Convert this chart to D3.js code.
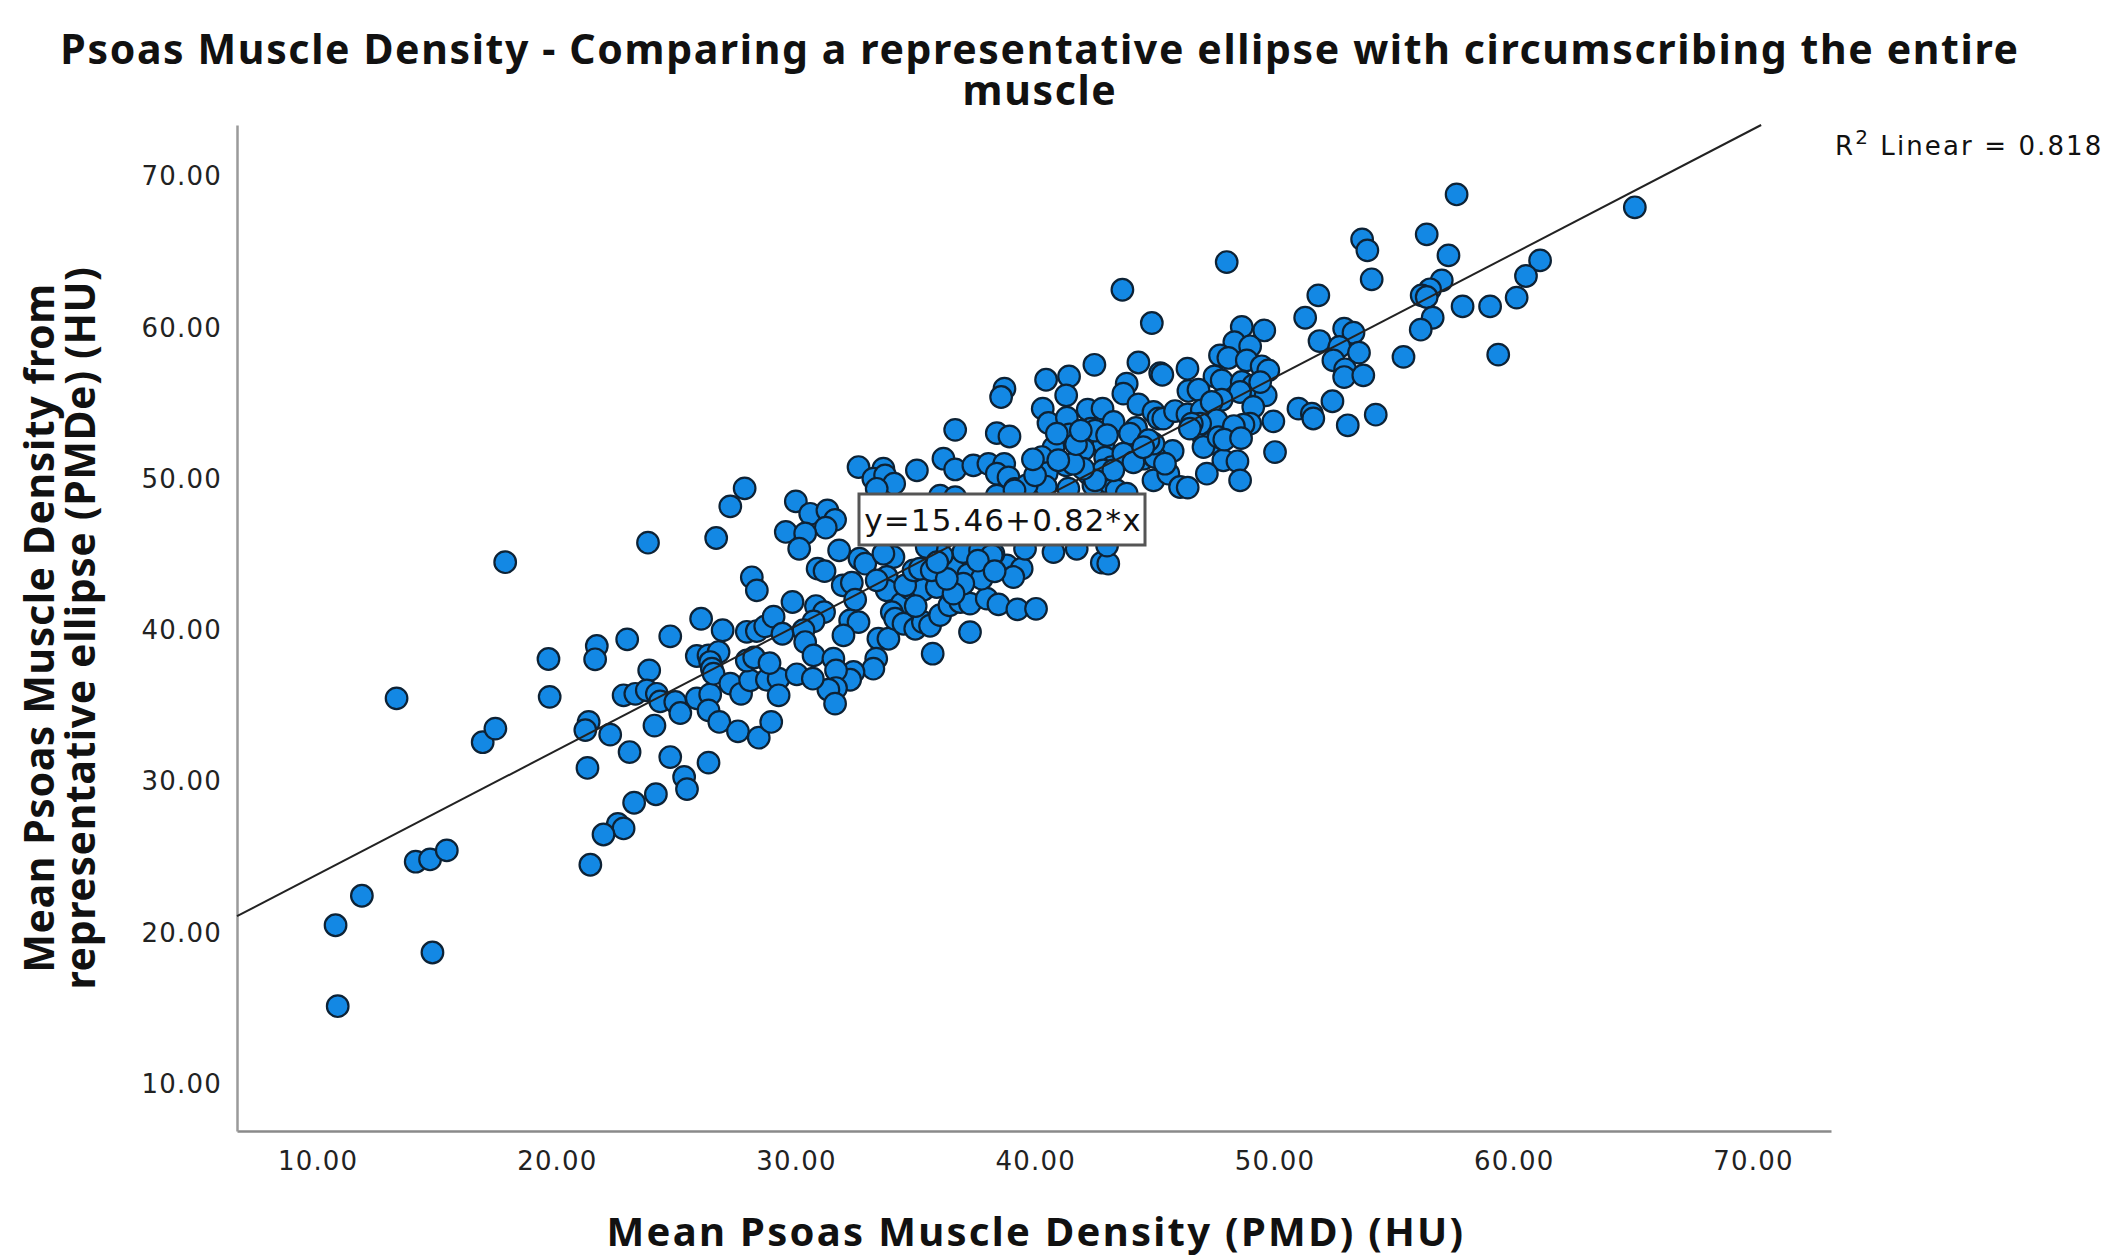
<!DOCTYPE html>
<html>
<head>
<meta charset="utf-8">
<script src="https://cdn.jsdelivr.net/npm/d3@7"></script>
<style>
	html, body { margin: 0; padding: 0; background: #fff; }
	svg { display: block; }
	text { fill: #111; }
	.tick text { fill: #222; font-family: "DejaVu Sans", sans-serif; font-size: 26px; letter-spacing: 1.2px; }
</style>
</head>
<body>
<div id="chart"></div>
<script>
// same order in both arrays
const pmdValues = [
	10.84, 10.75, 11.85, 14.8, 14.1, 14.7, 15.4, 13.3, 16.9, 17.43,
	17.84, 19.65, 19.7, 21.67, 21.6, 22.94, 24.74, 26.03, 26.93, 28.15,
	28.36, 23.86, 22.79, 23.28, 23.76, 24.18, 24.32, 24.95, 25.16, 25.85,
	26.41, 26.34, 26.79, 27.57, 28.44, 28.96, 24.08, 21.33, 21.19, 22.23,
	23.04, 24.74, 26.34, 21.28, 25.32, 25.44, 24.14, 23.23, 22.55, 22.79,
	21.95, 21.4, 25.85, 26.34, 26.76, 26.41, 26.48, 26.55, 27.25, 27.7,
	28.08, 28.78, 29.27, 29.27, 27.94, 28.25, 28.89, 27.94, 28.36, 28.71,
	29.06, 23.81, 26.66, 27.85, 27.25, 29.99, 30.59, 31.31, 31.63, 31.24,
	29.57, 30.38, 30.13, 31.8, 30.9, 31.19, 32.65, 32.89, 34.07, 33.65,
	29.85, 31.95, 32.33, 32.47, 30.83, 31.17, 30.73, 30.31, 30.38, 30.73,
	29.43, 32.26, 32.61, 31.98, 33.44, 33.86, 33.35, 33.23, 32.4, 32.26,
	31.56, 31.67, 31.67, 31.35, 31.63, 30.03, 30.7, 32.61, 33.65, 33.23,
	33.72, 34.1, 33.37, 35.05, 36.16, 36.65, 36.65, 38.39, 38.92, 37.41,
	38.04, 38.7, 38.39, 38.88, 36.02, 36.65, 38.39, 39.15, 39.71, 40.41,
	33.79, 33.79, 33.37, 34.42, 34.0, 34.14, 34.49, 34.98, 35.3, 35.6,
	35.71, 37.27, 34.77, 35.32, 35.88, 34.56, 34.91, 35.18, 35.67, 36.02,
	36.41, 36.86, 37.27, 37.97, 38.46, 39.25, 40.03, 36.58, 37.2, 37.76,
	36.99, 36.58, 38.81, 39.43, 39.08, 38.25, 37.55, 36.99, 36.09, 35.46,
	37.69, 39.57, 40.76, 41.73, 42.78, 43.05, 43.0, 38.18, 38.71, 38.57,
	40.45, 41.41, 42.47, 44.31, 45.22, 45.31, 41.29, 43.82, 43.68, 44.31,
	44.94, 40.31, 40.55, 41.32, 42.19, 42.81, 43.27, 42.32, 41.43, 44.21,
	43.96, 45.15, 42.85, 42.01, 40.76, 40.27, 41.29, 42.92, 43.2, 42.22,
	40.48, 43.89, 44.52, 44.96, 44.94, 42.43, 41.38, 40.44, 39.64, 39.13,
	43.13, 43.4, 39.99, 43.82, 43.64, 44.87, 48.0, 48.63, 49.57, 48.32,
	48.98, 47.72, 48.07, 48.84, 49.46, 49.74, 47.49, 47.79, 48.63, 49.11,
	48.56, 49.63, 47.79, 46.4, 46.82, 46.36, 49.11, 48.98, 49.95, 50.02,
	45.35, 45.84, 46.36, 46.96, 47.37, 47.3, 47.03, 47.58, 48.21, 46.89,
	46.54, 47.3, 47.03, 45.74, 47.86, 48.45, 45.01, 44.1, 44.94, 44.73,
	47.17, 48.56, 45.56, 46.05, 46.37, 45.42, 57.61, 56.36, 57.27, 53.66,
	53.88, 54.06, 51.83, 51.28, 56.99, 56.5, 56.15, 56.36, 61.1, 60.51,
	60.12, 59.01, 57.86, 56.61, 56.11, 55.39, 59.35, 51.88, 52.91, 53.3,
	52.71, 53.53, 52.46, 52.95, 52.91, 53.71, 52.42, 51.0, 51.56, 51.62,
	53.06, 54.23, 65.06, 43.68, 44.1, 44.51, 46.46, 42.84, 43.26, 42.5,
	42.0, 41.59, 40.96, 47.66, 48.7, 49.4, 48.3, 47.9, 48.6, 41.7,
	42.5, 41.9, 43.0, 40.9, 39.9, 36.3, 35.9, 37.6, 38.3, 35.0
];
const pmdeValues = [
	15.15, 20.5, 22.45, 18.7, 24.7, 24.85, 25.45, 35.5, 32.6, 33.5,
	44.5, 38.1, 35.6, 38.96, 38.08, 39.4, 39.6, 40.76, 40.0, 43.5,
	42.64, 37.35, 35.7, 35.8, 36.03, 35.8, 35.3, 35.26, 34.53, 35.5,
	35.76, 34.7, 33.94, 33.32, 32.9, 33.94, 33.7, 33.94, 33.4, 33.1,
	31.95, 31.62, 31.25, 30.9, 30.3, 29.5, 29.16, 28.6, 27.2, 26.9,
	26.5, 24.5, 38.3, 38.34, 38.56, 37.9, 37.46, 37.13, 36.47, 35.8,
	36.69, 36.73, 36.8, 35.7, 38.0, 38.2, 37.83, 39.9, 39.95, 40.26,
	40.9, 45.79, 46.1, 49.38, 48.19, 48.52, 47.7, 47.92, 47.3, 46.78,
	46.5, 46.4, 45.39, 45.28, 44.07, 43.91, 44.73, 44.4, 44.84, 45.06,
	41.87, 42.97, 43.14, 42.02, 41.6, 41.2, 40.59, 40.0, 39.22, 38.34,
	39.77, 40.65, 40.54, 39.66, 39.44, 39.44, 38.12, 37.46, 37.24, 36.73,
	38.12, 37.35, 36.18, 36.07, 35.15, 37.09, 36.8, 50.79, 50.68, 50.02,
	50.24, 49.69, 49.35, 50.57, 51.34, 50.63, 53.25, 53.03, 52.81, 50.9,
	51.0, 51.0, 50.35, 50.1, 48.9, 48.8, 48.9, 49.35, 49.57, 49.57,
	43.52, 42.64, 43.3, 41.76, 41.2, 40.76, 40.43, 40.1, 40.54, 40.3,
	38.45, 39.88, 42.75, 42.68, 42.86, 42.97, 43.96, 44.07, 43.96, 41.0,
	41.65, 41.87, 41.76, 42.09, 41.71, 41.38, 41.42, 44.07, 43.69, 43.41,
	43.08, 42.42, 44.29, 44.07, 43.52, 45.06, 45.5, 45.17, 44.95, 45.5,
	45.28, 45.39, 45.17, 45.39, 44.47, 44.4, 45.6, 44.95, 55.97, 55.42,
	56.56, 56.78, 57.55, 57.7, 57.0, 56.89, 55.53, 56.3, 55.64, 54.93,
	54.43, 54.65, 53.7, 54.05, 54.58, 54.65, 53.77, 53.32, 52.95, 53.37,
	53.0, 54.0, 52.33, 51.94, 52.07, 51.45, 50.9, 51.41, 50.79, 50.35,
	50.39, 51.34, 51.34, 51.5, 49.91, 49.58, 49.36, 49.5, 49.58, 49.25,
	49.69, 49.25, 50.24, 49.03, 62.51, 60.31, 64.34, 60.05, 59.82, 59.05,
	58.77, 58.17, 58.0, 57.84, 57.45, 57.18, 56.78, 56.52, 56.41, 56.19,
	55.75, 55.53, 55.24, 55.82, 55.9, 57.29, 54.76, 53.66, 53.81, 51.78,
	53.99, 54.49, 54.27, 54.54, 55.09, 53.22, 52.78, 53.88, 52.89, 53.66,
	53.66, 52.34, 52.11, 51.85, 51.23, 51.17, 51.45, 51.34, 52.34, 52.56,
	50.35, 49.91, 50.35, 49.47, 49.43, 51.01, 68.81, 66.17, 64.78, 65.84,
	65.11, 63.2, 62.14, 60.66, 63.13, 62.54, 62.14, 62.03, 64.45, 63.42,
	61.99, 61.41, 61.41, 60.66, 59.87, 58.07, 58.22, 59.12, 59.94, 59.67,
	58.73, 58.35, 57.84, 57.25, 56.74, 56.85, 55.14, 54.65, 54.32, 54.0,
	53.55, 54.25, 67.96, 51.67, 51.1, 52.1, 53.33, 50.57, 50.57, 49.91,
	50.68, 51.01, 51.24, 52.77, 53.59, 56.4, 53.5, 52.6, 52.7, 52.3,
	53.2, 53.2, 52.9, 53.0, 51.3, 43.4, 44.5, 44.6, 43.9, 41.6
];

const xTicks = [10, 20, 30, 40, 50, 60, 70];
const yTicks = [10, 20, 30, 40, 50, 60, 70];
const fitLineX = [6.63, 70.34];
const fitLineY = [21.1, 73.4];

const titleLines = ["Psoas Muscle Density - Comparing a representative ellipse with circumscribing the entire", "muscle"];
const yLabelLines = ["Mean Psoas Muscle Density from", "representative ellipse (PMDe) (HU)"];
const xLabel = "Mean Psoas Muscle Density (PMD) (HU)";
const fitEquation = "y=15.46+0.82*x";

const width = 2108, height = 1258;
const plotLeft = 237, plotRight = 1831, plotTop = 125, plotBottom = 1131;

const svg = d3.select("#chart")
			.append("svg")
			.attr("width", width)
			.attr("height", height)
			.attr("viewBox", `0 0 ${width} ${height}`);

const xScale = d3.scaleLinear()
			.domain([6.63, 73.26])
			.range([plotLeft, plotRight]);
const yScale = d3.scaleLinear()
			.domain([6.9, 73.4])
			.range([plotBottom, plotTop]);

const xAxis = d3.axisBottom(xScale)
			.tickValues(xTicks)
			.tickFormat(d3.format(".2f"))
			.tickSize(0)
			.tickPadding(21);
const yAxis = d3.axisLeft(yScale)
			.tickValues(yTicks)
			.tickFormat(d3.format(".2f"))
			.tickSize(0)
			.tickPadding(15);

svg.append("g")
	.attr("transform", "translate(0," + plotBottom + ")")
	.call(xAxis)
	.select(".domain")
	.attr("stroke", "#8a8a8a")
	.attr("stroke-width", 2.5);
svg.append("g")
	.attr("transform", "translate(" + plotLeft + ",0)")
	.call(yAxis)
	.select(".domain")
	.attr("stroke", "#9a9a9a")
	.attr("stroke-width", 2.5);

svg.selectAll("circle")
	.data(pmdValues.map((d, i) => ({ x: d, y: pmdeValues[i] })))
	.enter()
	.append("circle")
	.attr("cx", d => xScale(d.x))
	.attr("cy", d => yScale(d.y))
	.attr("r", 10.8)
	.attr("fill", "#1388e4")
	.attr("stroke", "#0d2235")
	.attr("stroke-width", 2.2);

const fitLine = d3.line()
			.x(d => xScale(d))
			.y((d, i) => yScale(fitLineY[i]));
svg.append("path")
	.attr("d", fitLine(fitLineX))
	.attr("fill", "none")
	.attr("stroke", "#222")
	.attr("stroke-width", 2);

// equation box sits on top of the points
svg.append("rect")
	.attr("x", 859)
	.attr("y", 494)
	.attr("width", 286)
	.attr("height", 51)
	.attr("fill", "#fff")
	.attr("stroke", "#555")
	.attr("stroke-width", 3);
svg.append("text")
	.attr("x", 1003)
	.attr("y", 531)
	.attr("text-anchor", "middle")
	.style("font-family", '"DejaVu Sans", sans-serif')
	.style("font-size", "31px")
	.style("letter-spacing", "1.1px")
	.text(fitEquation);

svg.selectAll(".title-line")
	.data(titleLines)
	.enter()
	.append("text")
	.attr("class", "title-line")
	.attr("x", 1040)
	.attr("y", (d, i) => 64 + i * 41)
	.attr("text-anchor", "middle")
	.style("font-family", '"Noto Sans", sans-serif')
	.style("font-weight", 700)
	.style("font-size", "41px")
	.style("letter-spacing", "1.63px")
	.text(d => d);

svg.selectAll(".y-label-line")
	.data(yLabelLines)
	.enter()
	.append("text")
	.attr("class", "y-label-line")
	.attr("transform", (d, i) => `translate(${54 + i * 41},628) rotate(-90)`)
	.attr("text-anchor", "middle")
	.style("font-family", '"Noto Sans", sans-serif')
	.style("font-weight", 700)
	.style("font-size", "41px")
	.style("letter-spacing", "0.6px")
	.text(d => d);

svg.append("text")
	.attr("x", 1036)
	.attr("y", 1246)
	.attr("text-anchor", "middle")
	.style("font-family", '"Noto Sans", sans-serif')
	.style("font-weight", 700)
	.style("font-size", "40px")
	.style("letter-spacing", "2.3px")
	.text(xLabel);

const r2 = svg.append("text")
	.attr("x", 1835)
	.attr("y", 155)
	.style("font-family", '"DejaVu Sans", sans-serif')
	.style("font-size", "26px")
	.style("letter-spacing", "2.1px");
r2.append("tspan").text("R");
r2.append("tspan").attr("dy", -11).style("font-size", "20px").text("2");
r2.append("tspan").attr("dy", 11).text(" Linear = 0.818");
</script>
</body>
</html>
